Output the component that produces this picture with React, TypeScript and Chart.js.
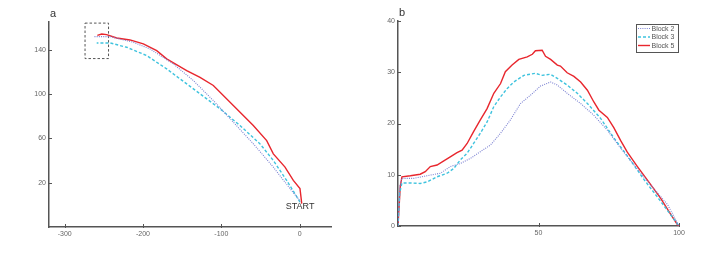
import React, { useEffect, useRef } from 'react';
import { Chart, registerables } from 'chart.js';
Chart.register(...registerables);

// ---------- Panel a: trajectories (from START) ----------
const aBlock2X = [0, -12.3, -33.6, -59.2, -84.7, -110.2, -135.8, -161.3, -191.1, -212.4, -242, -262];
const aBlock2Y = [4, 14.6, 34, 55.1, 74.6, 94.1, 112.2, 127.2, 140.7, 146.7, 151.8, 151.8];
const aBlock3X = [0.4, -6, -16.6, -33.6, -50.6, -76.2, -101.7, -127.2, -152.8, -169.8, -195.3, -220.8, -242.1, -259.1];
const aBlock3Y = [2.5, 10, 22, 40, 55, 71.6, 86.7, 100.2, 113.7, 122.7, 134.7, 142.2, 146.1, 146.1];
const aBlock5X = [2.6, 1.7, 0.4, -8.1, -18.7, -33.6, -42.1, -59.2, -84.7, -110.2, -127.2, -144.2, -169.8, -182.5, -199.6, -216.6, -233.6, -246.4, -252.7, -258.3];
const aBlock5Y = [1.1, 7, 14.6, 22, 34, 46, 58, 71.6, 89.6, 107.7, 115.1, 121.2, 131.7, 139.2, 145.2, 148.8, 150.6, 153.6, 154.2, 153];
const zoomBoxX = [-274, -244, -244, -274, -274];
const zoomBoxY = [164, 164, 132, 132, 164];
const aXTicks = [-300, -200, -100, 0];
const aYTicks = [20, 60, 100, 140];

// ---------- Panel b: profiles ----------
const bBlock2X = [0, 0.6, 1.4, 5.6, 10.3, 15.1, 18.6, 22.2, 25.8, 29.3, 32.9, 36.5, 40.0, 43.6, 47.1, 50.7, 54.3, 56.7, 60.2, 65.0, 69.7, 74.5, 79.2, 84.0, 89.9, 95.9, 100];
const bBlock2Y = [0, 7.7, 9.3, 9.3, 9.8, 10.3, 11.6, 12.2, 13.2, 14.5, 15.8, 18.1, 20.7, 23.9, 25.5, 27.3, 28.1, 27.5, 25.9, 23.9, 21.6, 18.7, 15.2, 11.9, 8.0, 4.2, 0];
const bBlock3X = [0, 0.6, 1.4, 4.4, 7.9, 10.3, 13.9, 17.5, 19.8, 22.2, 24.6, 26.9, 29.3, 31.7, 34.1, 36.5, 38.8, 41.2, 44.8, 48.9, 51.3, 54.3, 56.7, 60.2, 63.8, 67.4, 72.1, 76.8, 81.6, 87.5, 93.5, 100];
const bBlock3Y = [0, 6.4, 8.4, 8.4, 8.3, 8.6, 9.6, 10.3, 11.2, 12.9, 14.2, 16.1, 18.1, 20.3, 23.3, 25.2, 26.8, 28.1, 29.4, 29.8, 29.4, 29.6, 28.8, 27.5, 25.9, 23.9, 21.0, 17.2, 13.7, 9.1, 4.8, 0];
const bBlock5X = [0, 0.8, 1.4, 4.4, 7.9, 9.7, 11.5, 13.9, 16.3, 18.6, 21.0, 22.8, 24.6, 26.9, 29.3, 31.7, 34.1, 36.5, 38.2, 40.6, 43.0, 46.0, 47.8, 48.9, 51.3, 52.5, 54.3, 56.7, 57.8, 60.2, 62.6, 65.0, 67.4, 69.7, 71.5, 74.5, 76.8, 79.2, 81.6, 85.2, 88.7, 93.5, 97.0, 99.4, 100];
const bBlock5Y = [0, 7.7, 9.6, 9.8, 10.1, 10.6, 11.6, 11.9, 12.7, 13.5, 14.3, 14.8, 16.1, 18.4, 20.7, 22.9, 25.9, 27.8, 30.1, 31.4, 32.5, 33.0, 33.5, 34.2, 34.3, 33.1, 32.5, 31.4, 31.2, 29.9, 29.2, 28.1, 26.5, 24.2, 22.6, 21.2, 19.2, 16.7, 14.4, 11.6, 9.0, 5.4, 2.3, 0.3, 0];
const bXTicks = [50, 100];
const bYTicks = [0, 10, 20, 30, 40];

const seriesLabels = ['Block 2', 'Block 3', 'Block 5'];

const FONT = "'Liberation Sans', Arial, Helvetica, sans-serif";
const AXIS = '#555';
const TICKTEXT = '#666';
const BLUE = '#7c82d2';
const CYAN = '#3fc3de';
const RED = '#e8262d';

const xy = (xs: number[], ys: number[]) => xs.map((x, i) => ({ x, y: ys[i] }));

const styles = [
  { borderColor: BLUE, borderWidth: 1.1, borderDash: [1, 1.2] },
  { borderColor: CYAN, borderWidth: 1.4, borderDash: [3, 2] },
  { borderColor: RED, borderWidth: 1.4, borderDash: [] as number[] },
];

const inwardTicks = {
  id: 'inwardTicks',
  afterDraw(chart: any) {
    const { ctx, chartArea, scales } = chart;
    ctx.save();
    ctx.strokeStyle = AXIS;
    ctx.lineWidth = 1;
    ctx.setLineDash([]);
    scales.x.ticks.forEach((t: any) => {
      const px = Math.round(scales.x.getPixelForValue(t.value)) + 0.5;
      ctx.beginPath();
      ctx.moveTo(px, chartArea.bottom + 1);
      ctx.lineTo(px, chartArea.bottom - 3);
      ctx.stroke();
    });
    scales.y.ticks.forEach((t: any) => {
      const py = Math.round(scales.y.getPixelForValue(t.value)) + 0.5;
      ctx.beginPath();
      ctx.moveTo(chartArea.left - 1, py);
      ctx.lineTo(chartArea.left + 3, py);
      ctx.stroke();
    });
    ctx.restore();
  },
};

const panelLabel = (text: string) => ({
  id: 'panelLabel',
  afterDraw(chart: any) {
    const { ctx, chartArea } = chart;
    ctx.save();
    ctx.fillStyle = '#333';
    ctx.font = `11px ${FONT}`;
    ctx.textBaseline = 'alphabetic';
    ctx.fillText(text, chartArea.left + 1, chartArea.top - 5);
    ctx.restore();
  },
});

const startLabel = {
  id: 'startLabel',
  afterDraw(chart: any) {
    const { ctx, scales } = chart;
    ctx.save();
    ctx.fillStyle = '#333';
    ctx.font = `9px ${FONT}`;
    ctx.textAlign = 'center';
    ctx.textBaseline = 'alphabetic';
    ctx.fillText('START', scales.x.getPixelForValue(0.5), scales.y.getPixelForValue(-4));
    ctx.restore();
  },
};

const boxLegend = {
  id: 'boxLegend',
  afterDraw(chart: any) {
    const { ctx, chartArea } = chart;
    const w = 42;
    const h = 28;
    const left = Math.round(chartArea.right - w) - 0.5;
    const top = Math.round(chartArea.top + 2.5) + 0.5;
    ctx.save();
    ctx.fillStyle = '#fff';
    ctx.fillRect(left, top, w, h);
    ctx.strokeStyle = '#555';
    ctx.lineWidth = 1;
    ctx.setLineDash([]);
    ctx.strokeRect(left, top, w, h);
    chart.data.datasets.forEach((ds: any, i: number) => {
      const cy = top + 4 + i * 8.5;
      ctx.strokeStyle = ds.borderColor;
      ctx.lineWidth = ds.borderWidth;
      ctx.setLineDash(ds.borderDash || []);
      ctx.beginPath();
      ctx.moveTo(left + 1.5, cy);
      ctx.lineTo(left + 13.5, cy);
      ctx.stroke();
      ctx.setLineDash([]);
      ctx.fillStyle = '#555';
      ctx.font = `7px ${FONT}`;
      ctx.textBaseline = 'middle';
      ctx.fillText(ds.label, left + 15, cy + 0.5);
    });
    ctx.restore();
  },
};

function axis(min: number, max: number, ticks: number[], isX: boolean) {
  return {
    type: 'linear' as const,
    min,
    max,
    afterBuildTicks: (s: any) => {
      s.ticks = ticks.map((v) => ({ value: v }));
    },
    afterFit: (s: any) => {
      if (isX) s.height = 20;
      else s.width = 30;
    },
    grid: { display: false, drawTicks: false },
    border: { display: true, color: AXIS, width: 1.5 },
    ticks: { padding: 3, color: TICKTEXT, font: { family: FONT, size: 7 } },
  };
}

function ChartBox({ config, left }: { config: any; left: number }) {
  const ref = useRef<HTMLCanvasElement>(null);
  useEffect(() => {
    const chart = new Chart(ref.current as HTMLCanvasElement, config);
    return () => chart.destroy();
  }, []);
  return (
    <canvas
      ref={ref}
      width={359}
      height={257}
      style={{ position: 'absolute', left, top: 0, width: 359, height: 257 }}
    />
  );
}

export default function App() {
  const aData = [xy(aBlock2X, aBlock2Y), xy(aBlock3X, aBlock3Y), xy(aBlock5X, aBlock5Y)];
  const bData = [xy(bBlock2X, bBlock2Y), xy(bBlock3X, bBlock3Y), xy(bBlock5X, bBlock5Y)];

  const configA = {
    type: 'scatter',
    data: {
      datasets: [
        ...aData.map((d, i) => ({
          label: seriesLabels[i],
          data: d,
          showLine: true,
          pointRadius: 0,
          fill: false,
          ...styles[i],
        })),
        {
          label: 'zoom',
          data: xy(zoomBoxX, zoomBoxY),
          showLine: true,
          pointRadius: 0,
          fill: false,
          borderColor: '#555',
          borderWidth: 1,
          borderDash: [2.5, 2],
        },
      ],
    },
    options: {
      responsive: false,
      animation: false,
      layout: { padding: { left: 19, right: 28, top: 22, bottom: 10 } },
      plugins: { legend: { display: false }, tooltip: { enabled: false } },
      scales: { x: axis(-320, 40, aXTicks, true), y: axis(-20, 165, aYTicks, false) },
    },
    plugins: [inwardTicks, panelLabel('a'), startLabel],
  };

  const configB = {
    type: 'scatter',
    data: {
      datasets: bData.map((d, i) => ({
        label: seriesLabels[i],
        data: d,
        showLine: true,
        pointRadius: 0,
        fill: false,
        ...styles[i],
      })),
    },
    options: {
      responsive: false,
      animation: false,
      layout: { padding: { left: 9, right: 39, top: 21, bottom: 11 } },
      plugins: { legend: { display: false }, tooltip: { enabled: false } },
      scales: { x: axis(0, 100, bXTicks, true), y: axis(0, 40, bYTicks, false) },
    },
    plugins: [inwardTicks, panelLabel('b'), boxLegend],
  };

  return (
    <div style={{ position: 'absolute', left: 0, top: 0, width: 718, height: 257, background: '#fff' }}>
      <ChartBox config={configA} left={0} />
      <ChartBox config={configB} left={359} />
    </div>
  );
}
